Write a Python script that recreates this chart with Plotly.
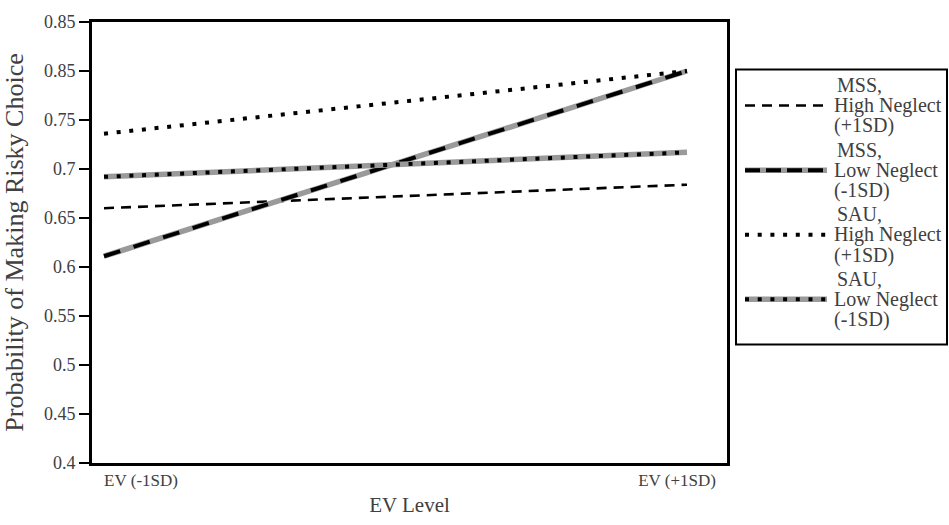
import plotly.graph_objects as go

# EV level positions (0 = -1SD, 1 = +1SD)
ev_levels = [0, 1]
ev_tick_pos = [0.0635, 0.983]
ev_tick_text = ["EV (-1SD)", "EV (+1SD)"]

# Predicted probability of making the risky choice
mss_high = [0.660, 0.684]
mss_low = [0.611, 0.800]
sau_high = [0.736, 0.800]
sau_low = [0.692, 0.717]

y_tick_vals = [0.40, 0.45, 0.50, 0.55, 0.60, 0.65, 0.70, 0.75, 0.80, 0.85]
y_tick_text = ["0.4", "0.45", "0.5", "0.55", "0.6", "0.65", "0.7", "0.75", "0.85", "0.85"]

legend_lines = [
    ["MSS,", "High Neglect", "(+1SD)"],
    ["MSS,", "Low Neglect", "(-1SD)"],
    ["SAU,", "High Neglect", "(+1SD)"],
    ["SAU,", "Low Neglect", "(-1SD)"],
]

FONT = "Liberation Serif"
TEXT = "#404040"
GRAY = "#9a9a9a"

# Line styles: list of (colour, width, dash on plot, dash in legend), bottom to top
styles = [
    [("black", 2.6, "10px,7px", "10px,7px")],
    [(GRAY, 5.5, "solid", "solid"), ("black", 4, "17px,14px", "15px,6px")],
    [("black", 4, "4px,8.7px", "4px,8.7px")],
    [(GRAY, 5.5, "solid", "solid"), ("black", 4, "4px,8.7px", "4px,8.7px")],
]
series = [mss_high, mss_low, sau_high, sau_low]

fig = go.Figure()
for vals, layers in zip(series, styles):
    for color, width, dash, _ in layers:
        fig.add_trace(go.Scatter(
            x=ev_levels, y=vals, mode="lines",
            line=dict(color=color, width=width, dash=dash),
            showlegend=False, hoverinfo="skip",
        ))

# Hand-built legend box to the right of the plot (paper coordinates)
W, H = 949, 525
ml, mr, mt, mb = 92, 222, 21, 50
pw, ph = W - ml - mr, H - mt - mb


def px(x):
    return (x - ml) / pw


def py(y):
    return (H - mb - y) / ph


shapes = [dict(type="rect", xref="paper", yref="paper",
               x0=px(736), x1=px(947), y0=py(70), y1=py(353),
               line=dict(color="black", width=2), fillcolor="white", layer="below")]
annotations = []
first_line = 86
spacing = 21
item_pitch = 66.5
for i, (lines, layers) in enumerate(zip(legend_lines, styles)):
    top = first_line + item_pitch * i
    ymid = top + spacing
    for color, width, _, ldash in layers:
        shapes.append(dict(type="line", xref="paper", yref="paper",
                           x0=px(745), x1=px(827), y0=py(ymid), y1=py(ymid),
                           line=dict(color=color, width=width, dash=ldash)))
    for j, txt in enumerate(lines):
        annotations.append(dict(xref="paper", yref="paper",
                                x=px(835 if j == 0 else 832), y=py(top + spacing * j),
                                xanchor="left", yanchor="middle", align="left",
                                text=txt, showarrow=False,
                                font=dict(family=FONT, size=20, color=TEXT)))

fig.update_layout(
    width=W, height=H,
    margin=dict(l=ml, r=mr, t=mt, b=mb),
    paper_bgcolor="white", plot_bgcolor="white",
    font=dict(family=FONT, size=18, color=TEXT),
    shapes=shapes, annotations=annotations,
    xaxis=dict(range=[-0.0206, 1.0686], tickvals=ev_tick_pos, ticktext=ev_tick_text,
               showgrid=False, zeroline=False, showline=True, linecolor="black",
               linewidth=3, mirror=True, ticks="",
               tickfont=dict(family=FONT, size=17, color=TEXT),
               title=dict(text="EV Level", font=dict(family=FONT, size=21, color=TEXT), standoff=8)),
    yaxis=dict(range=[0.4, 0.85], tickvals=y_tick_vals, ticktext=y_tick_text,
               showgrid=False, zeroline=False, showline=True, linecolor="black",
               linewidth=3, mirror=True, ticks="outside", ticklen=10, tickwidth=2,
               tickcolor="black", tickfont=dict(family=FONT, size=18, color=TEXT),
               title=dict(text="Probability of Making Risky Choice",
                          font=dict(family=FONT, size=26, color=TEXT), standoff=14)),
)

fig.write_html("out.html")
